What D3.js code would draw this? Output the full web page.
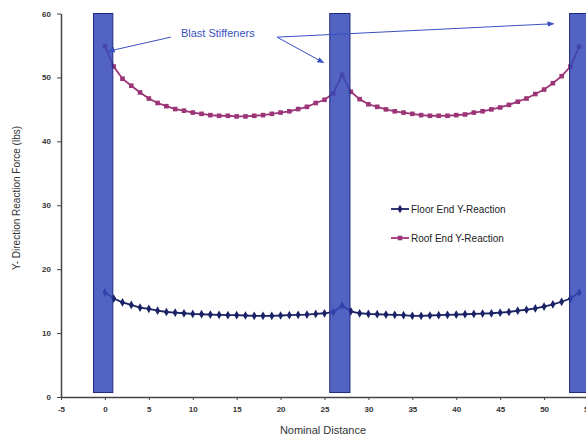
<!DOCTYPE html>
<html>
<head>
<meta charset="utf-8">
<script src="https://cdn.jsdelivr.net/npm/d3@7"></script>
<style>
  body { margin: 0; background: #fff; }
  svg { display: block; font-family: "Liberation Sans", Arial, sans-serif; }
</style>
</head>
<body>
<svg id="chart" width="586" height="437"></svg>
<script>
// nominal distance positions 0..54
const distance = [0,1,2,3,4,5,6,7,8,9,10,11,12,13,14,15,16,17,18,19,20,21,22,23,24,25,26,27,
  28,29,30,31,32,33,34,35,36,37,38,39,40,41,42,43,44,45,46,47,48,49,50,51,52,53,54];

const floorReaction = [16.35,15.4,14.8,14.4,14.0,13.8,13.5,13.3,13.2,13.1,13.0,12.95,12.9,12.85,12.8,12.8,12.75,12.7,12.7,12.7,12.75,12.8,12.85,12.9,13.0,13.1,13.3,14.3,
  13.4,13.1,13.0,12.95,12.9,12.85,12.8,12.7,12.7,12.75,12.8,12.85,12.9,12.95,13.0,13.05,13.1,13.2,13.3,13.5,13.65,13.85,14.15,14.5,14.9,15.4,16.35];

const roofReaction = [54.9,51.7,49.8,48.7,47.65,46.7,46.0,45.5,45.05,44.8,44.5,44.3,44.1,44.0,44.0,43.9,43.9,44.0,44.1,44.3,44.5,44.7,45.05,45.4,46.0,46.5,47.5,50.4,
  47.75,46.6,45.8,45.4,45.0,44.7,44.5,44.3,44.1,44.0,44.0,44.0,44.1,44.2,44.5,44.7,45.0,45.3,45.7,46.2,46.7,47.4,48.1,49.1,50.2,51.7,54.8];

// blast stiffener bands [x0, x1]
const stiffeners = [[-1.3, 0.9], [25.6, 27.9], [52.9, 55.1]];

const xTicks = [-5,0,5,10,15,20,25,30,35,40,45,50,55];
const yTicks = [0,10,20,30,40,50,60];

const seriesNames = ["Floor End Y-Reaction", "Roof End Y-Reaction"];

const svg = d3.select("#chart");

const x = d3.scaleLinear().domain([-5, 55]).range([61, 588]);
const y = d3.scaleLinear().domain([0, 60]).range([397, 13.5]);

const floorColor = "#1b2366",
      roofColor = "#9c3577",
      bandColor = "#3448b6",
      noteColor = "#3a50c0";

// axes
const xAxis = svg.append("g")
    .attr("transform", `translate(0,${y(0)})`)
    .call(d3.axisBottom(x).tickValues(xTicks).tickFormat(d => String(d))
        .tickSize(3).tickPadding(6).tickSizeOuter(0));
const yAxis = svg.append("g")
    .attr("transform", `translate(${x(-5)},0)`)
    .call(d3.axisLeft(y).tickValues(yTicks).tickSize(4).tickPadding(6).tickSizeOuter(0));

[xAxis, yAxis].forEach(a => {
    a.select(".domain").attr("stroke", "#444").attr("stroke-width", 1.5);
    a.selectAll(".tick line").attr("stroke", "#444");
    a.selectAll("text").attr("font-size", 8).attr("font-weight", "bold").attr("fill", "#333");
});

// series lines + markers
const line = d3.line().x((d, i) => x(distance[i])).y(d => y(d));

svg.append("path").datum(floorReaction)
    .attr("d", line).attr("fill", "none").attr("stroke", floorColor).attr("stroke-width", 1.8);
svg.append("path").datum(roofReaction)
    .attr("d", line).attr("fill", "none").attr("stroke", roofColor).attr("stroke-width", 1.8);

svg.selectAll(".floorPt").data(floorReaction).enter()
    .append("path").attr("class", "floorPt")
    .attr("d", d3.symbol(d3.symbolDiamond, 22))
    .attr("transform", (d, i) => `translate(${x(distance[i])},${y(d)})`)
    .attr("fill", floorColor);

svg.selectAll(".roofPt").data(roofReaction).enter()
    .append("rect").attr("class", "roofPt")
    .attr("x", (d, i) => x(distance[i]) - 2.3)
    .attr("y", d => y(d) - 2.3)
    .attr("width", 4.6).attr("height", 4.6)
    .attr("fill", roofColor);

// stiffener bands drawn over the curves
svg.selectAll(".band").data(stiffeners).enter()
    .append("rect").attr("class", "band")
    .attr("x", d => x(d[0]))
    .attr("width", d => x(d[1]) - x(d[0]))
    .attr("y", y(60))
    .attr("height", y(0.7) - y(60))
    .attr("fill", bandColor).attr("fill-opacity", 0.85)
    .attr("stroke", "#1e2a80").attr("stroke-width", 1);

// legend
const legend = svg.append("g");
[floorColor, roofColor].forEach((c, i) => {
    const ly = 209 + i * 29;
    legend.append("line").attr("x1", 391).attr("x2", 409).attr("y1", ly).attr("y2", ly)
        .attr("stroke", c).attr("stroke-width", 1.8);
    if (i == 0) {
        legend.append("path").attr("d", d3.symbol(d3.symbolDiamond, 22))
            .attr("transform", `translate(400,${ly})`).attr("fill", c);
    } else {
        legend.append("rect").attr("x", 397.7).attr("y", ly - 2.3).attr("width", 4.6).attr("height", 4.6).attr("fill", c);
    }
    legend.append("text").attr("x", 411).attr("y", ly + 3.5)
        .attr("font-size", 10).attr("fill", "#222").text(seriesNames[i]);
});

// annotation
const defs = svg.append("defs");
defs.append("marker").attr("id", "arrow")
    .attr("viewBox", "0 0 10 10").attr("refX", 9).attr("refY", 5)
    .attr("markerWidth", 7).attr("markerHeight", 7).attr("orient", "auto")
    .append("path").attr("d", "M0,1L10,5L0,9Z").attr("fill", noteColor);

const arrows = [[7.5, 56.3, 0.4, 54.1], [19.6, 56.3, 24.9, 52.3], [19.6, 56.3, 51.1, 58.4]];
svg.selectAll(".arrow").data(arrows).enter()
    .append("line").attr("class", "arrow")
    .attr("x1", d => x(d[0])).attr("y1", d => y(d[1]))
    .attr("x2", d => x(d[2])).attr("y2", d => y(d[3]))
    .attr("stroke", noteColor).attr("stroke-width", 1)
    .attr("marker-end", "url(#arrow)");

svg.append("text").attr("x", x(8.65)).attr("y", y(56.9) + 4)
    .attr("font-size", 11).attr("fill", noteColor).text("Blast Stiffeners");

// axis titles
svg.append("text").attr("x", 323).attr("y", 434)
    .attr("text-anchor", "middle").attr("font-size", 11).attr("fill", "#333")
    .text("Nominal Distance");
svg.append("text")
    .attr("transform", "translate(20,198) rotate(-90)")
    .attr("text-anchor", "middle").attr("font-size", 10).attr("fill", "#333")
    .text("Y- Direction Reaction Force (lbs)");
</script>
</body>
</html>
